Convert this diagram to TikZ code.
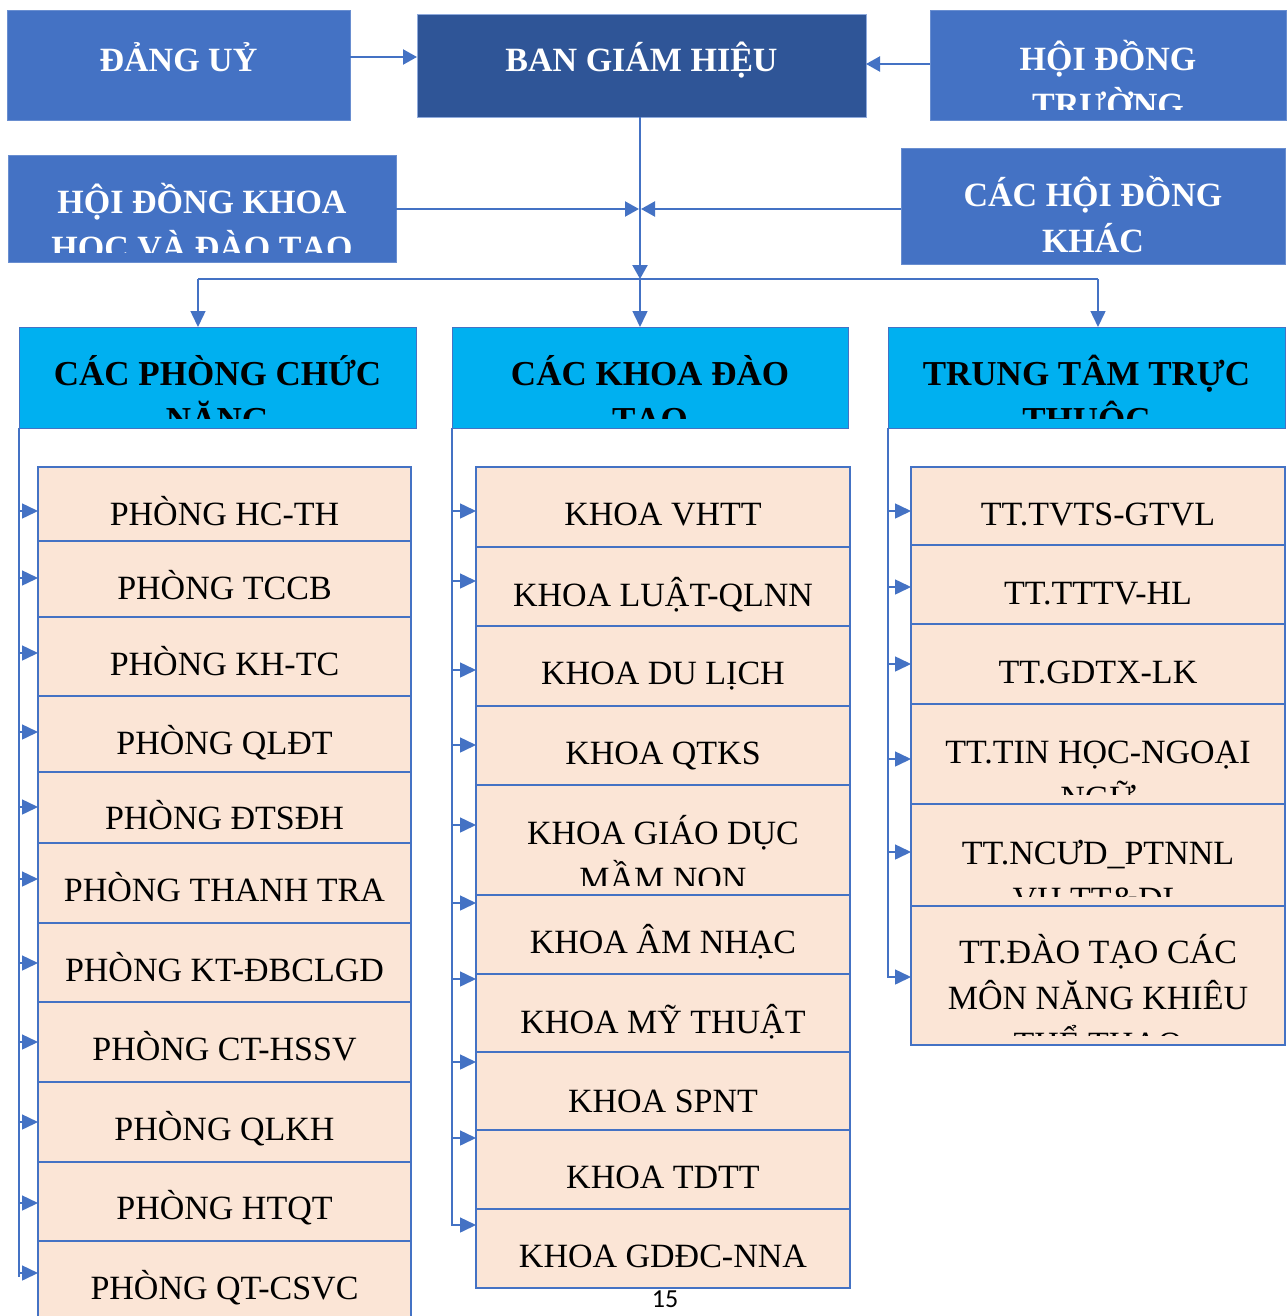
\documentclass[tikz,border=0pt]{standalone}
\usepackage{fontspec}
\setmainfont{Liberation Serif}
\newfontfamily\pgnumfont{Carlito}
\usetikzlibrary{arrows.meta}
\definecolor{blu}{HTML}{4472C4}
\definecolor{bghc}{HTML}{2F5597}
\definecolor{hdrc}{HTML}{00B0F0}
\definecolor{peach}{HTML}{FBE5D6}
\newcommand\linesbox[1]{\parbox[t]{390pt}{\centering #1}}
% #1 name, #2 style, #3 x1, #4 y1, #5 x2, #6 y2, #7 baseline, #8 text
\newcommand\obox[8]{%
  \node[#2, anchor=north west, minimum width={(#5-#3)*1pt}, minimum height={(#6-#4)*1pt}] (#1) at (#3,#4) {};
  \begin{scope}
    \clip (#3,#4) rectangle (#5,#6-10);
    \node[#2 text, anchor=base] (#1-t) at ({(#3+#5)/2},#7) {\linesbox{#8}};
  \end{scope}}
\begin{document}
\begin{tikzpicture}[x=1pt,y=-1pt,
  boxbase/.style={inner sep=0pt, outer sep=0pt},
  topbox/.style={boxbase, fill=blu, draw=blu!80!white, line width=0.8pt},
  topbox text/.style={inner sep=0pt, text=white, font=\bfseries\fontsize{34}{46}\selectfont},
  bghbox/.style={boxbase, fill=bghc, draw=blu!60!white, line width=0.8pt},
  bghbox text/.style={inner sep=0pt, text=white, font=\bfseries\fontsize{34}{46}\selectfont},
  hdrbox/.style={boxbase, fill=hdrc, draw=blu, line width=1pt},
  hdrbox text/.style={inner sep=0pt, text=black, font=\bfseries\fontsize{35}{46}\selectfont},
  unitbox/.style={boxbase, fill=peach, draw=blu, line width=1.2pt},
  unitbox text/.style={inner sep=0pt, text=black, font=\fontsize{34}{46}\selectfont},
  con/.style={draw=blu, line width=1.5pt},
  topcon/.style={draw=blu, line width=2.2pt},
  toparr/.style={topcon, -{Triangle[length=14pt,width=15pt]}},
  busarr/.style={con, -{Triangle[length=16pt,width=15pt]}},
  barr/.style={con, -{Triangle[length=16pt,width=15pt]}}
]
\useasboundingbox (0,0) rectangle (1287,1316);
\fill[white] (0,0) rectangle (1287,1316);

% top level
\obox{dang}{topbox}{7}{10}{350}{120}{72}{ĐẢNG UỶ}
\obox{bgh}{bghbox}{417}{14}{866}{117}{72}{BAN GIÁM HIỆU}
\obox{hdt}{topbox}{930}{10}{1286}{120}{71}{HỘI ĐỒNG\\TRƯỜNG}
\obox{hdkh}{topbox}{8}{155}{396}{262}{213}{HỘI ĐỒNG KHOA\\HỌC VÀ ĐÀO TẠO}
\obox{hdk}{topbox}{901}{148}{1285}{264}{207}{CÁC HỘI ĐỒNG\\KHÁC}

% headers
\obox{hp}{hdrbox}{19}{327}{416}{428}{385}{CÁC PHÒNG CHỨC\\NĂNG}
\obox{hk}{hdrbox}{452}{327}{848}{428}{385}{CÁC KHOA ĐÀO\\TẠO}
\obox{ht}{hdrbox}{888}{327}{1285}{428}{385}{TRUNG TÂM TRỰC\\THUỘC}

% left column
\obox{p1}{unitbox}{38}{467}{411}{541}{525}{PHÒNG HC-TH}
\obox{p2}{unitbox}{38}{541}{411}{617}{599}{PHÒNG TCCB}
\obox{p3}{unitbox}{38}{617}{411}{696}{675}{PHÒNG KH-TC}
\obox{p4}{unitbox}{38}{696}{411}{772}{754}{PHÒNG QLĐT}
\obox{p5}{unitbox}{38}{772}{411}{843}{829}{PHÒNG ĐTSĐH}
\obox{p6}{unitbox}{38}{843}{411}{923}{901}{PHÒNG THANH TRA}
\obox{p7}{unitbox}{38}{923}{411}{1002}{981}{PHÒNG KT-ĐBCLGD}
\obox{p8}{unitbox}{38}{1002}{411}{1082}{1060}{PHÒNG CT-HSSV}
\obox{p9}{unitbox}{38}{1082}{411}{1162}{1140}{PHÒNG QLKH}
\obox{p10}{unitbox}{38}{1162}{411}{1241}{1219}{PHÒNG HTQT}
\obox{p11}{unitbox}{38}{1241}{411}{1330}{1299}{PHÒNG QT-CSVC}

% middle column
\obox{m1}{unitbox}{476}{467}{850}{547}{525}{KHOA VHTT}
\obox{m2}{unitbox}{476}{547}{850}{626}{606}{KHOA LUẬT-QLNN}
\obox{m3}{unitbox}{476}{626}{850}{706}{684}{KHOA DU LỊCH}
\obox{m4}{unitbox}{476}{706}{850}{785}{764}{KHOA QTKS}
\obox{m5}{unitbox}{476}{785}{850}{895}{844}{KHOA GIÁO DỤC\\MẦM NON}
\obox{m6}{unitbox}{476}{895}{850}{974}{953}{KHOA ÂM NHẠC}
\obox{m7}{unitbox}{476}{974}{850}{1052}{1033}{KHOA MỸ THUẬT}
\obox{m8}{unitbox}{476}{1052}{850}{1130}{1112}{KHOA SPNT}
\obox{m9}{unitbox}{476}{1130}{850}{1209}{1188}{KHOA TDTT}
\obox{m10}{unitbox}{476}{1209}{850}{1288}{1267}{KHOA GDĐC-NNA}

% right column
\obox{t1}{unitbox}{911}{467}{1285}{545}{525}{TT.TVTS-GTVL}
\obox{t2}{unitbox}{911}{545}{1285}{624}{604}{TT.TTTV-HL}
\obox{t3}{unitbox}{911}{624}{1285}{704}{683}{TT.GDTX-LK}
\obox{t4}{unitbox}{911}{704}{1285}{804}{763}{TT.TIN HỌC-NGOẠI\\NGỮ}
\obox{t5}{unitbox}{911}{804}{1285}{906}{864}{TT.NCƯD\_PTNNL\\VH,TT\&DL}
\obox{t6}{unitbox}{911}{906}{1285}{1045}{963}{TT.ĐÀO TẠO CÁC\\MÔN NĂNG KHIÊU\\THỂ THAO}

% top connectors
\coordinate (hub) at (640,209);
\coordinate (bus) at (640,279);
\coordinate (busL) at (198,279);
\coordinate (busR) at (1098,279);
\draw[toparr] (dang.east |- 0,57) -- (bgh.west |- 0,57);
\draw[toparr] (hdt.west |- 0,64) -- (bgh.east |- 0,64);
\draw[toparr] (hdkh.east |- hub) -- ([xshift=-1pt]hub);
\draw[toparr] (hdk.west |- hub) -- ([xshift=1pt]hub);
\draw[toparr] (bus |- bgh.south) -- (bus);
\draw[con] (busL) -- (busR);
\draw[busarr] (busL) -- (busL |- hp.north);
\draw[busarr] (bus) -- (bus |- hk.north);
\draw[busarr] (busR) -- (busR |- ht.north);

% column spines
\draw[con] (hp.south west) -- (hp.south west |- 0,1277);
\draw[con] (hk.south west) -- (hk.south west |- 0,1226);
\draw[con] (ht.south west) -- (ht.south west |- 0,978);

\foreach \n/\yy in {p1/511,p2/578,p3/653,p4/732,p5/807,p6/879,p7/963,p8/1042,p9/1122,p10/1203,p11/1273}
  \draw[barr] (hp.south west |- 0,\yy) -- (\n.west |- 0,\yy);
\foreach \n/\yy in {m1/511,m2/581,m3/670,m4/745,m5/825,m6/903,m7/979,m8/1062,m9/1138,m10/1225}
  \draw[barr] (hk.south west |- 0,\yy) -- (\n.west |- 0,\yy);
\foreach \n/\yy in {t1/511,t2/587,t3/664,t4/759,t5/852,t6/977}
  \draw[barr] (ht.south west |- 0,\yy) -- (\n.west |- 0,\yy);

\node[font=\pgnumfont\fontsize{26}{30}\selectfont, inner sep=0pt] (pg) at (665,1299) {15};
\end{tikzpicture}
\end{document}
